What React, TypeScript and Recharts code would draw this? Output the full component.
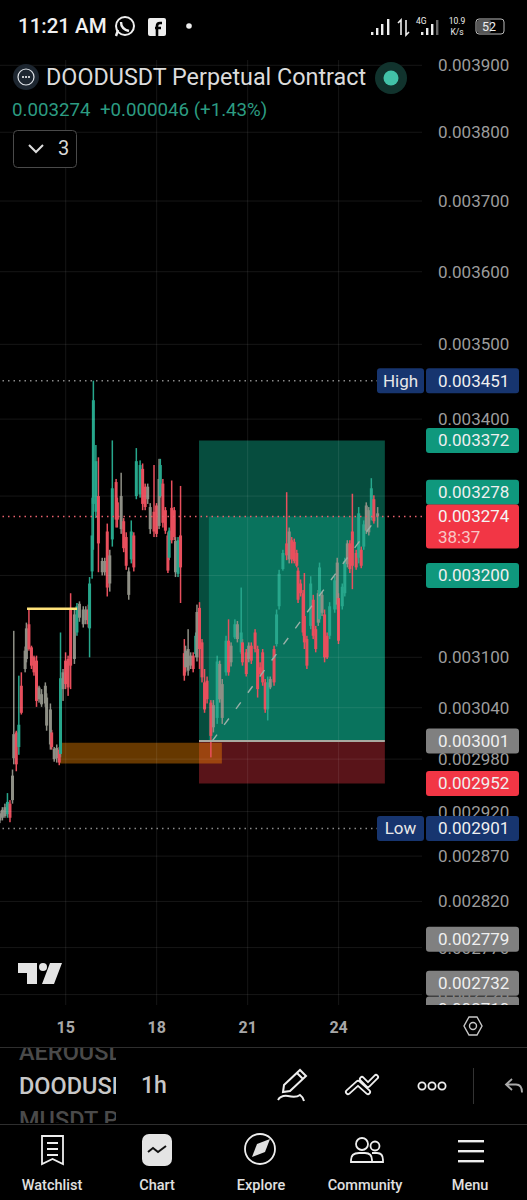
import React from "react";
import { ComposedChart, Bar, XAxis, YAxis, ReferenceArea, ReferenceLine } from "recharts";

const hours = [
  0,2,4,6,8,10,11,13,15,17, 20,21,23,25,27,29,31,33,36,37,
  40,41,43,45,47,48,50,52,54,56, 59,61,63,66,68,70,71,73,74,76,
  78,81,83,85,87,89,92,93,96,98, 100,102,104,106,108,111,113,115,117,119,
  122,124,126,127,129,131,133,134,136,138, 139,141,143,146,147,149,151,153,155,156,
  158,160,162,164,167,169,172,174,176,179, 181,183,186,188,191,192,195,197,199,202,
  204,206,208,210,212,214,217,219,221,224, 227,229,231,233,235,236,238,240,241,243,
  246,248,250,252,253,255,257,259,261,265, 267,268,271,273,275,277,279,282,284,286,
  288,290,292,294,296,299,
];
const highs = [
  2921,2925,2929,2941,2933,2968,3132,3013,3078,3082, 3113,3142,3158,3114,3102,3102,3066,3062,3070,3057,
  3045,3014,2994,2997,2994,3130,3086,3106,3102,3178, 3158,3166,3168,3162,3162,3164,3198,3298,3451,3366,
  3350,3222,3222,3265,3232,3372,3322,3298,3330,3272, 3254,3210,3269,3254,3362,3346,3342,3316,3316,3291,
  3340,3291,3348,3348,3322,3286,3254,3260,3320,3286, 3248,3248,3313,3122,3114,3134,3106,3106,3130,3164,
  3167,3122,3086,3077,3049,3049,3102,3096,3074,3126, 3146,3118,3146,3144,3185,3122,3110,3118,3118,3134,
  3114,3094,3110,3074,3077,3077,3114,3158,3207,3232, 3305,3260,3248,3246,3232,3210,3195,3182,3203,3126,
  3199,3176,3138,3182,3216,3180,3158,3130,3167,3199, 3222,3178,3190,3222,3244,3244,3303,3232,3286,3236,
  3269,3292,3286,3323,3301,3286,
];
const lows = [
  2907,2910,2913,2913,2908,2929,2974,2966,2985,3032, 3082,3094,3108,3086,3078,3041,3046,3041,3041,3013,
  2991,2991,2977,2976,2973,2982,3048,3062,3054,3062, 3092,3126,3143,3136,3140,3136,3100,3196,3232,3272,
  3204,3200,3200,3174,3180,3236,3260,3260,3252,3229, 3207,3170,3215,3205,3296,3298,3282,3282,3290,3252,
  3248,3248,3258,3298,3260,3252,3203,3219,3240,3244, 3198,3198,3166,3072,3082,3078,3086,3082,3100,3095,
  3086,3070,3034,3045,2982,3011,3021,3046,3021,3078, 3078,3089,3122,3118,3104,3090,3077,3094,3092,3106,
  3052,3078,3066,3034,3025,3062,3066,3113,3158,3206, 3219,3215,3215,3215,3210,3166,3174,3126,3110,3086,
  3134,3122,3106,3138,3142,3150,3094,3098,3122,3154, 3158,3116,3158,3174,3210,3203,3183,3207,3215,3209,
  3232,3252,3250,3269,3265,3260,
];
const opens = [
  2918,2922,2915,2917,2929,2933,2981,3011,2994,3066, 3086,3098,3140,3112,3100,3096,3050,3056,3045,3019,
  3038,3011,2992,2981,2991,2986,3062,3096,3098,3158, 3098,3130,3148,3158,3145,3158,3135,3205,3290,3280,
  3300,3218,3204,3255,3190,3245,3318,3292,3300,3268, 3248,3205,3220,3250,3300,3302,3335,3312,3296,3286,
  3280,3288,3262,3300,3316,3282,3250,3222,3285,3282, 3243,3202,3250,3105,3108,3084,3102,3102,3104,3100,
  3160,3118,3070,3072,3046,3017,3028,3092,3028,3082, 3120,3094,3124,3122,3106,3118,3106,3098,3114,3130,
  3110,3088,3106,3070,3038,3064,3110,3116,3162,3208, 3240,3220,3244,3242,3228,3206,3190,3178,3150,3122,
  3138,3170,3134,3142,3146,3176,3152,3126,3126,3158, 3216,3172,3162,3178,3214,3240,3255,3228,3222,3232,
  3236,3288,3254,3272,3296,3278,
];
const closes = [
  2910,2913,2925,2931,2913,2961,3009,2974,3020,3034, 3108,3135,3110,3090,3082,3048,3064,3044,3066,3052,
  2997,2994,2980,2993,2976,3075,3082,3068,3064,3090, 3152,3162,3165,3140,3158,3140,3190,3250,3425,3345,
  3240,3204,3218,3185,3225,3310,3270,3270,3258,3234, 3212,3176,3255,3210,3345,3340,3290,3286,3312,3258,
  3255,3252,3322,3340,3266,3256,3206,3256,3244,3248, 3204,3244,3210,3078,3088,3110,3090,3086,3126,3155,
  3110,3076,3038,3050,3007,3043,3095,3050,3068,3120, 3082,3114,3140,3140,3130,3094,3080,3114,3096,3110,
  3062,3080,3070,3038,3070,3074,3070,3152,3202,3228, 3225,3255,3220,3218,3212,3170,3178,3130,3118,3090,
  3190,3126,3110,3178,3210,3154,3100,3100,3162,3194, 3164,3120,3186,3218,3240,3208,3212,3210,3278,3212,
  3264,3256,3282,3310,3268,3274,
];
const tones = [
  "g","g","g","t","r","g","g","r","t","r", "g","g","r","r","r","r","g","g","g","g",
  "g","r","g","g","r","t","g","r","r","r", "g","t","g","g","g","r","t","t","t","t",
  "r","g","g","r","g","t","r","r","g","r", "r","g","t","r","t","t","r","r","g","g",
  "r","r","g","t","r","r","r","t","r","r", "g","t","r","r","g","g","g","r","t","g",
  "r","r","r","r","r","g","t","g","g","t", "r","g","t","g","t","r","r","g","r","r",
  "r","r","r","r","t","g","r","t","t","t", "r","g","r","r","r","r","r","r","r","r",
  "t","r","r","g","t","g","r","r","t","t", "g","r","t","t","g","r","r","r","t","r",
  "t","g","g","t","r","g",
];

const priceTicks = [3900,3800,3700,3600,3500,3400,3300,3200,3100,3040,2980,2920,2870,2820,2770,2720];
const dayTicks = [52,124,196,268];
const dayLabels = ["15","18","21","24"];

const HIGH = 3451, LOW = 2901, LAST = 3274, TARGET = 3372, ENTRY = 3001, STOP = 2952;

const toneFill: Record<string,string> = { t: "#27a78c", r: "#e84f5d", g: "#8e8f85" };
const rows = hours.map((t, i) => ({ t, high: highs[i], low: lows[i], open: opens[i], close: closes[i], tone: tones[i] }));
const fmt = (v: number) => (v / 1e6).toFixed(6);
const FONT = "Roboto, sans-serif";
const GRID = "rgba(255,255,255,0.085)";

function candlePart(w: number) {
  return (p: any) => {
    const tone = p.payload?.tone ?? p.tone;
    return <rect x={p.x + p.width / 2 - w / 2} y={p.y} width={w} height={Math.max(p.height, 1)} fill={toneFill[tone]} />;
  };
}

function PriceTag({ viewBox, price, fill, shift = 0, height = 25, name, clip }: any) {
  const y = (viewBox?.y ?? 0) + shift;
  const rectY = y - height / 2;
  return (
    <g clipPath={clip ? "url(#axisClip)" : undefined}>
      {name && <rect x={377} y={rectY} width={47} height={height} fill={fill} rx={3} />}
      {name && <text x={400.5} y={y + 6} fontSize={17} fontFamily={FONT} fill="#e8e8e8" textAnchor="middle">{name}</text>}
      <rect x={426} y={rectY} width={93} height={height} fill={fill} rx={3} />
      <text x={438} y={y + 6} fontSize={17} fontFamily={FONT} fill="#efefef">{fmt(price)}</text>
    </g>
  );
}

const tag = (price: number, fill: string, extra: any = {}) => (
  <ReferenceLine y={price} stroke="none" ifOverflow="visible"
    label={(p: any) => <PriceTag {...p} price={price} fill={fill} {...extra} />} />
);

const NavLabel = ({ x, children }: any) => (
  <div style={{ position: "absolute", left: x - 50, width: 100, top: 1177, textAlign: "center", fontSize: 14.5, fontWeight: 500, color: "#e0e0e0" }}>{children}</div>
);

export default function App() {
  return (
    <div style={{ position: "absolute", left: 0, top: 0, width: 527, height: 1200, background: "#000", overflow: "hidden", fontFamily: FONT }}>
      <div style={{ position: "absolute", left: 0, top: 0 }}>
        <ComposedChart width={527} height={1200} data={rows} margin={{ top: 60, right: 0, bottom: 155, left: 0 }}>
          <defs>
            <clipPath id="axisClip"><rect x={370} y={0} width={157} height={1005} /></clipPath>
          </defs>
          <XAxis dataKey="t" type="number" domain={[0, 334]} ticks={dayTicks} height={40} axisLine={false} tickLine={false} tickMargin={11}
            tickFormatter={(v: number) => dayLabels[dayTicks.indexOf(v)]}
            tick={{ fill: "#a8a8a8", fontSize: 16, fontWeight: 700, fontFamily: FONT }} />
          <XAxis xAxisId="body" dataKey="t" type="number" domain={[0, 334]} hide />
          <YAxis orientation="right" width={105} scale="log" domain={[2709, 3908]} allowDataOverflow ticks={priceTicks}
            axisLine={false} tickLine={false} tick={false} />
          <ReferenceArea x1={157.5} x2={304.6} y1={ENTRY} y2={TARGET} fill="#0c9a7c" fillOpacity={0.5} stroke="none" />
          <ReferenceArea x1={165.3} x2={304.6} y1={ENTRY} y2={LAST} fill="#0c9a7c" fillOpacity={0.5} stroke="none" />
          <ReferenceArea x1={157.5} x2={304.6} y1={STOP} y2={ENTRY} fill="#f23645" fillOpacity={0.37} stroke="none" />
          <ReferenceArea x1={47.5} x2={175.6} y1={2975} y2={2999} fill="#ff8c00" fillOpacity={0.4} stroke="none" />
          {priceTicks.map((p) => (
            <ReferenceLine key={p} y={p} stroke={GRID} strokeWidth={1} label={(lp: any) => (
              <text x={438} y={(lp.viewBox?.y ?? 0) + 6} fontSize={17} fontFamily={FONT} fill="#9c9c9c">{fmt(p)}</text>
            )} />
          ))}
          {dayTicks.map((t) => <ReferenceLine key={t} x={t} stroke={GRID} strokeWidth={1} />)}
          <ReferenceLine segment={[{ x: 157.5, y: ENTRY }, { x: 304.6, y: ENTRY }]} stroke="#a9a9a0" strokeWidth={2} />
          <ReferenceLine y={HIGH} stroke="#8a8a8a" strokeWidth={1.5} strokeDasharray="1.5 4" />
          <ReferenceLine y={LOW} stroke="#8a8a8a" strokeWidth={1.5} strokeDasharray="1.5 4" />
          <ReferenceLine y={LAST} stroke="#e8606c" strokeWidth={1.5} strokeDasharray="1.5 4" />
          <ReferenceLine segment={[{ x: 168, y: ENTRY }, { x: 299, y: LAST }]} stroke="#9ab0a8" strokeWidth={1.4} strokeDasharray="8 12" />
          <ReferenceLine segment={[{ x: 21.4, y: 3159 }, { x: 61, y: 3159 }]} stroke="#ffe27a" strokeWidth={2.5} />
          <Bar dataKey={(d: any) => [d.low, d.high]} barSize={1} isAnimationActive={false} shape={candlePart(1.5)} />
          <Bar xAxisId="body" dataKey={(d: any) => [Math.min(d.open, d.close), Math.max(d.open, d.close)]} barSize={1} isAnimationActive={false} shape={candlePart(3)} />
          {tag(HIGH, "#17356f", { name: "High" })}
          {tag(TARGET, "#0f987d")}
          {tag(3278, "#0f987d", { shift: -21 })}
          {tag(3200, "#0f987d")}
          {tag(ENTRY, "#808080")}
          {tag(STOP, "#f23645")}
          {tag(LOW, "#17356f", { name: "Low" })}
          {tag(2779, "#808080")}
          {tag(2710, "#808080", { clip: true, shift: 5 })}
          {tag(2732, "#808080")}
          <ReferenceLine y={LAST} stroke="none" ifOverflow="visible" label={(p: any) => (
            <g>
              <rect x={426} y={(p.viewBox?.y ?? 0) - 12} width={93} height={44} fill="#f23645" rx={3} />
              <text x={438} y={(p.viewBox?.y ?? 0) + 6} fontSize={17} fontFamily={FONT} fill="#f4f4f4">{fmt(LAST)}</text>
              <text x={438} y={(p.viewBox?.y ?? 0) + 27} fontSize={17} fontFamily={FONT} fill="#f8c6c6">38:37</text>
            </g>
          )} />
        </ComposedChart>
      </div>

      {/* status bar */}
      <div style={{ position: "absolute", left: 18, top: 14, fontSize: 20.5, fontWeight: 500, color: "#f0f0f0" }}>11:21 AM</div>
      <svg width={527} height={60} style={{ position: "absolute", left: 0, top: 0 }}>
        <circle cx={125} cy={26} r={9} fill="none" stroke="#eee" strokeWidth={2} />
        <path d="M116 36 L118 30 M121 22 q0 7 8 9" stroke="#eee" strokeWidth={2.4} fill="none" />
        <rect x={148} y={18} width={18} height={18} rx={2} fill="#eee" />
        <path d="M157 36 V26 q0-3 3-3 h2 M155 28 h6" stroke="#000" strokeWidth={2.6} fill="none" />
        <circle cx={189} cy={26} r={2.8} fill="#eee" />
        {[[371,3],[376,7],[381,11],[387,16]].map(([x,h],i)=><rect key={i} x={x} y={35-h} width={2.4} height={h} fill="#eee" />)}
        <path d="M401 35 V20 l-3 3 M406 20 V35 l3-3" stroke="#eee" strokeWidth={1.6} fill="none" />
        <text x={416} y={24} fontSize={8.5} fontFamily={FONT} fill="#eee">4G</text>
        {[[421,3],[426,7],[431,11]].map(([x,h],i)=><rect key={i} x={x} y={35-h} width={2.4} height={h} fill="#eee" />)}
        <rect x={436} y={20} width={2.4} height={15} fill="#666" />
        <text x={457} y={24} fontSize={8.5} fontFamily={FONT} fill="#eee" textAnchor="middle">10.9</text>
        <text x={457} y={35} fontSize={8.5} fontFamily={FONT} fill="#eee" textAnchor="middle">K/s</text>
        <rect x={476} y={19} width={28} height={15} rx={3} fill="none" stroke="#bbb" strokeWidth={1} />
        <rect x={477} y={20} width={14} height={13} rx={2} fill="#555" />
        <text x={489} y={31} fontSize={12.5} fontFamily={FONT} fill="#eee" textAnchor="middle">52</text>
      </svg>

      {/* legend */}
      <svg width={420} height={180} style={{ position: "absolute", left: 0, top: 0 }}>
        <circle cx={26} cy={77} r={13} fill="#1d2630" />
        <circle cx={26} cy={77} r={8} fill="none" stroke="#dfe3e8" strokeWidth={1.2} />
        {[23,26,29].map(x=><circle key={x} cx={x} cy={77} r={1} fill="#fff" />)}
        <circle cx={391} cy={78} r={16} fill="#11332d" />
        <circle cx={391} cy={78} r={7.5} fill="#42c2a8" />
        <rect x={13.5} y={130.5} width={63} height={37} rx={4} fill="#000" stroke="#4a4a4a" />
        <path d="M29 145 l7 7 l7 -7" fill="none" stroke="#ddd" strokeWidth={2} />
      </svg>
      <div style={{ position: "absolute", left: 46, top: 63, fontSize: 23.35, color: "#dcdcdc", whiteSpace: "nowrap" }}>DOODUSDT Perpetual Contract</div>
      <div style={{ position: "absolute", left: 12, top: 99, fontSize: 18.7, color: "#2c9c82", whiteSpace: "nowrap" }}>0.003274</div>
      <div style={{ position: "absolute", left: 100, top: 99, fontSize: 18.7, color: "#2c9c82", whiteSpace: "nowrap" }}>+0.000046 (+1.43%)</div>
      <div style={{ position: "absolute", left: 58, top: 136, fontSize: 20, color: "#d8d8d8" }}>3</div>

      {/* logo, hex, toolbar, nav */}
      <svg width={527} height={1200} style={{ position: "absolute", left: 0, top: 0 }}>
        <path d="M18 963 H37 V984 H27 V973 H18 Z M50 963 H62 L54 984 H42 Z" fill="#e4e4e4" />
        <circle cx={43} cy={967} r={4} fill="#e4e4e4" />
        <path d="M469 1017 h8 l5 9 l-5 9 h-8 l-5 -9 Z" fill="none" stroke="#c8c8c8" strokeWidth={1.4} />
        <circle cx={473} cy={1026} r={3.5} fill="none" stroke="#c8c8c8" strokeWidth={1.4} />
        <rect x={0} y={1047} width={527} height={1} fill="#2e2e2e" />
        <rect x={0} y={1124} width={527} height={1} fill="#2e2e2e" />
        <path d="M284 1085 l16 -15 l6 6 l-16 15 l-7 1 Z M297 1073 l6 6" fill="none" stroke="#eee" strokeWidth={2} />
        <path d="M278 1100 q3 -5 10 -4 q8 2 12 -1 q3 2 4 6" fill="none" stroke="#eee" strokeWidth={2} />
        <path d="M348 1092 L358 1083 L368 1092 M362 1079 L368 1085 L376 1077" fill="none" stroke="#eee" strokeWidth={6} strokeLinecap="round" strokeLinejoin="round" />
        <path d="M348 1092 L358 1083 L368 1092 M362 1079 L368 1085 L376 1077" fill="none" stroke="#000" strokeWidth={2.4} strokeLinecap="round" strokeLinejoin="round" />
        {[422,432,442].map(x=><circle key={x} cx={x} cy={1086} r={3.6} fill="none" stroke="#eee" strokeWidth={1.8} />)}
        <rect x={473} y={1068} width={1} height={36} fill="#333" />
        <path d="M512 1079 l-6 5.500 l6 5.500 M506 1084.500 h10 q6 0 6 8" fill="none" stroke="#aaa" strokeWidth={1.8} />
        <path d="M42 1136 h21 v28 l-10.500 -5 l-10.500 5 Z M47 1143 h11 M47 1149 h11 M47 1155 h11" fill="none" stroke="#eee" strokeWidth={1.8} />
        <rect x={142} y={1134} width={30} height={32} rx={7} fill="#e4e4e4" />
        <path d="M148 1152 l5 -4 l5 4 l8 -6" fill="none" stroke="#111" strokeWidth={2} />
        <circle cx={260} cy={1149} r={15} fill="none" stroke="#eee" strokeWidth={1.8} />
        <path d="M270 1139 l-5 13 l-13 5 l5 -13 Z" fill="#e0e0e0" />
        <circle cx={362} cy={1144} r={6} fill="none" stroke="#eee" strokeWidth={1.8} />
        <circle cx={375} cy={1146} r={4.500} fill="none" stroke="#eee" strokeWidth={1.8} />
        <path d="M351 1162 v-2 q0 -7 8 -7 h6 q7 0 7 7 v2 Z M372 1153 h5 q6 0 6 7 v2 h-11" fill="none" stroke="#eee" strokeWidth={1.8} />
        {[1140,1150,1160].map(y=><rect key={y} x={458} y={y} width={26} height={2.4} fill="#eee" />)}
      </svg>
      <div style={{ position: "absolute", left: 0, top: 1048, width: 116, height: 75, overflow: "hidden" }}>
        <div style={{ position: "absolute", left: 19, top: -10, fontSize: 23.5, fontWeight: 500, color: "#4a4a4a", whiteSpace: "nowrap" }}>AEROUSDT</div>
        <div style={{ position: "absolute", left: 19, top: 24, fontSize: 23.5, fontWeight: 500, color: "#c8c8c8", whiteSpace: "nowrap" }}>DOODUSDT</div>
        <div style={{ position: "absolute", left: 19, top: 58, fontSize: 23.5, fontWeight: 500, color: "#4a4a4a", whiteSpace: "nowrap" }}>MUSDT P</div>
      </div>
      <div style={{ position: "absolute", left: 141, top: 1072, fontSize: 23, fontWeight: 500, color: "#c8c8c8" }}>1h</div>
      <NavLabel x={52}>Watchlist</NavLabel>
      <NavLabel x={157}>Chart</NavLabel>
      <NavLabel x={261}>Explore</NavLabel>
      <NavLabel x={365}>Community</NavLabel>
      <NavLabel x={470}>Menu</NavLabel>
    </div>
  );
}
